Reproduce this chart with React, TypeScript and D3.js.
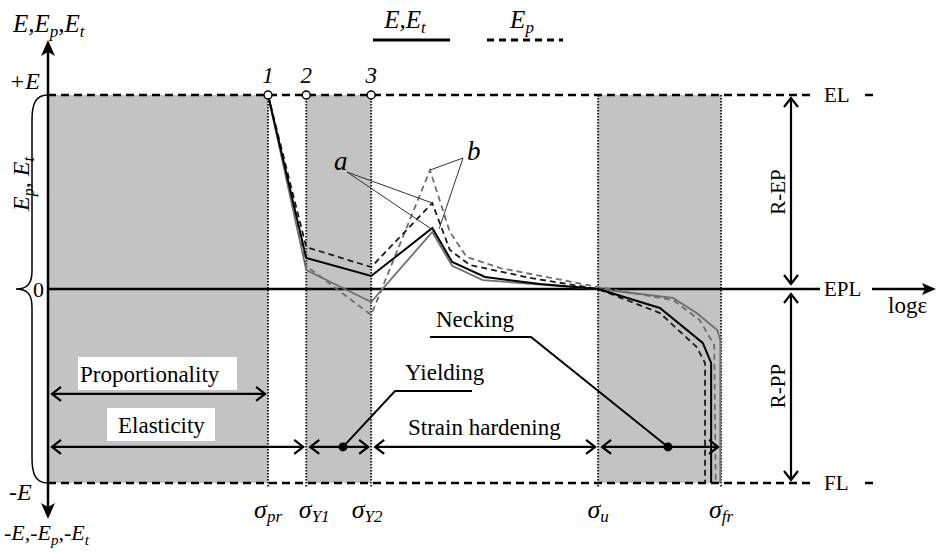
import React, { useEffect, useRef } from "react";
import * as d3 from "d3";

// ---- data (x in relative log-strain units 0..100, y in units of E: +1 = +E, -1 = -E)
const stressNames = ["pr", "Y1", "Y2", "u", "fr"];
const stressX = [28.8, 33.8, 42.3, 72.0, 88.1];
const pointLabels = ["1", "2", "3"];
const pointX = [28.8, 33.8, 42.3];
const shadedBands = [
  [0, 28.8],
  [33.8, 42.3],
  [72.0, 88.1],
];
const levelNames = ["EL", "EPL", "FL"];
const levelY = [1, 0, -1];

const blackSolidX = [28.8, 33.8, 42.3, 50.3, 52.9, 57.2, 64.4, 72.0, 80.1, 85.7, 86.8, 86.8];
const blackSolidY = [1, 0.16, 0.067, 0.314, 0.139, 0.062, 0.026, 0, -0.098, -0.278, -0.381, -1];
const blackDashX = [28.8, 33.8, 42.3, 50.3, 52.6, 55.2, 63.1, 72.0, 80.1, 84.9, 86.0, 86.0];
const blackDashY = [1, 0.216, 0.113, 0.443, 0.201, 0.124, 0.057, 0, -0.124, -0.299, -0.381, -1];
const greySolidX = [28.8, 33.8, 42.3, 50.3, 52.9, 56.9, 72.0, 81.8, 84.9, 87.6, 88.0, 88.0];
const greySolidY = [1, 0.098, -0.067, 0.294, 0.119, 0.046, 0, -0.046, -0.124, -0.211, -0.263, -1];
const greyDashX = [28.8, 33.8, 42.3, 50.0, 52.6, 54.8, 59.2, 72.0, 81.8, 85.3, 87.2, 87.4];
const greyDashY = [1, 0.119, -0.134, 0.613, 0.294, 0.165, 0.108, 0.01, -0.057, -0.16, -0.289, -1];

const rangeNames = ["Proportionality", "Elasticity", "Yielding", "Strain hardening", "Necking"];
const fontParts = ["Liberation", "Serif"];

const W = 941;
const H = 554;
const x = d3.scaleLinear().domain([0, 100]).range([48, 812]);
const y = d3.scaleLinear().domain([-1, 1]).range([483, 95]);

const GREY = "#6e6e6e";
const SHADE = "#c3c3c3";
const FAMILY = `'${fontParts.join(" ")}'`;

function pts(xs: number[], ys: number[]): [number, number][] {
  return xs.map((v, i) => [x(v), y(ys[i])]);
}
const line = d3.line();

function T(props: any) {
  const { children, italic, ...rest } = props;
  const extra: any = italic ? { fontStyle: "italic" } : {};
  return (
    <text {...rest} {...extra} style={{ fontFamily: FAMILY }}>
      {children}
    </text>
  );
}

function Chevron({ px, py, dir }: { px: number; py: number; dir: number }) {
  const s = 9;
  const w = 7;
  let d = "";
  if (dir === 0) d = `M${px + s},${py - w} L${px},${py} L${px + s},${py + w}`;
  if (dir === 1) d = `M${px - s},${py - w} L${px},${py} L${px - s},${py + w}`;
  if (dir === 2) d = `M${px - w},${py + s} L${px},${py} L${px + w},${py + s}`;
  if (dir === 3) d = `M${px - w},${py - s} L${px},${py} L${px + w},${py - s}`;
  return <path d={d} fill="none" stroke="#000" strokeWidth={2.2} />;
}

function HArrow({ x1, x2, py }: { x1: number; x2: number; py: number }) {
  return (
    <g>
      <line x1={x1} x2={x2} y1={py} y2={py} stroke="#000" strokeWidth={2.2} />
      <Chevron px={x1} py={py} dir={0} />
      <Chevron px={x2} py={py} dir={1} />
    </g>
  );
}

function VArrow({ px, y1, y2 }: { px: number; y1: number; y2: number }) {
  return (
    <g>
      <line x1={px} x2={px} y1={y1} y2={y2} stroke="#000" strokeWidth={2.2} />
      <Chevron px={px} py={y1} dir={2} />
      <Chevron px={px} py={y2} dir={3} />
    </g>
  );
}

export default function App() {
  const ref = useRef<SVGSVGElement | null>(null);
  useEffect(() => {
    if (!ref.current) return;
    d3.select(ref.current)
      .selectAll("text, tspan")
      .attr("font-family", FAMILY)
      .each(function () {
        (this as any).style.setProperty("font-family", FAMILY, "important");
      });
  }, []);

  const y0 = y(0);
  const yTop = y(1);
  const yBot = y(-1);
  const xAxis = x(0);
  const arrowY1 = y(-0.541);
  const arrowY2 = y(-0.814);
  const xR = 791;

  return (
    <svg ref={ref} width={W} height={H} style={{ position: "absolute", left: 0, top: 0 }}>
      <rect x={0} y={0} width={W} height={H} fill="#fff" />
      {shadedBands.map((b, i) => (
        <rect key={i} x={x(b[0])} y={yTop} width={x(b[1]) - x(b[0])} height={yBot - yTop} fill={SHADE} />
      ))}
      {stressX.map((v, i) => (
        <line key={i} x1={x(v)} x2={x(v)} y1={yTop} y2={yBot + 4} stroke="#222" strokeWidth={2} strokeDasharray="1.5 1.5" />
      ))}
      {[1, -1].map((lv, i) => (
        <g key={i}>
          <line x1={xAxis} x2={812} y1={y(lv)} y2={y(lv)} stroke="#000" strokeWidth={2.5} strokeDasharray="8 5" />
          <line x1={865} x2={873} y1={y(lv)} y2={y(lv)} stroke="#000" strokeWidth={2.5} />
        </g>
      ))}
      <line x1={xAxis} x2={820} y1={y0} y2={y0} stroke="#000" strokeWidth={2.5} />
      <line x1={872} x2={926} y1={y0} y2={y0} stroke="#000" strokeWidth={2.5} />
      <path d={`M936,${y0} L922,${y0 - 6} L925,${y0} L922,${y0 + 6} Z`} fill="#000" />
      {levelNames.map((n, i) => (
        <T key={n} x={824} y={y(levelY[i]) + 7} fontSize={21}>
          {n}
        </T>
      ))}
      <T x={888} y={313} fontSize={23}>logε</T>

      {/* curves */}
      <path d={line(pts(greySolidX, greySolidY)) || ""} fill="none" stroke={GREY} strokeWidth={1.8} />
      <path d={line(pts(greyDashX, greyDashY)) || ""} fill="none" stroke={GREY} strokeWidth={1.8} strokeDasharray="6 4" />
      <path d={line(pts(blackDashX, blackDashY)) || ""} fill="none" stroke="#1a1a1a" strokeWidth={1.8} strokeDasharray="6 4" />
      <path d={line(pts(blackSolidX, blackSolidY)) || ""} fill="none" stroke="#000" strokeWidth={2} />

      {/* a / b leaders */}
      <T x={334} y={170} fontSize={27} italic>a</T>
      <line x1={347} y1={172} x2={x(50.3)} y2={y(0.443)} stroke="#333" strokeWidth={1} />
      <line x1={347} y1={172} x2={x(50.0)} y2={y(0.314)} stroke="#333" strokeWidth={1} />
      <T x={467} y={160} fontSize={27} italic>b</T>
      <line x1={463} y1={158} x2={x(50.0)} y2={y(0.613)} stroke="#333" strokeWidth={1} />
      <line x1={463} y1={158} x2={x(51.2)} y2={y(0.31)} stroke="#333" strokeWidth={1} />

      {pointX.map((v, i) => (
        <g key={i}>
          <circle cx={x(v)} cy={yTop} r={4} fill="#fff" stroke="#000" strokeWidth={1.5} />
          <T x={x(v)} y={83} fontSize={23} italic textAnchor="middle">
            {pointLabels[i]}
          </T>
        </g>
      ))}

      {/* axes */}
      <line x1={xAxis} x2={xAxis} y1={50} y2={510} stroke="#000" strokeWidth={2.5} />
      <path d={`M${xAxis},40 L${xAxis - 7},56 L${xAxis},52 L${xAxis + 7},56 Z`} fill="#000" />
      <path d={`M${xAxis},519 L${xAxis - 7},503 L${xAxis},507 L${xAxis + 7},503 Z`} fill="#000" />

      {/* brace */}
      <path
        d={`M${xAxis},${yTop} C36,${yTop} 32,${yTop + 8} 32,${yTop + 25} L32,${y0 - 18} C32,${y0 - 4} 26,${y0} 16,${y0} C26,${y0} 32,${y0 + 4} 32,${y0 + 18} L32,${yBot - 25} C32,${yBot - 8} 36,${yBot} ${xAxis},${yBot}`}
        fill="none"
        stroke="#000"
        strokeWidth={1.5}
      />
      <T x={33} y={297} fontSize={22}>0</T>
      <T transform={`translate(29,${184}) rotate(-90)`} fontSize={24} italic textAnchor="middle">
        E<tspan fontSize={16} dy={5}>p</tspan>
        <tspan dy={-5}>, E</tspan>
        <tspan fontSize={16} dy={5}>t</tspan>
      </T>

      <T x={13} y={32} fontSize={25} italic>
        E,E<tspan fontSize={17} dy={5}>p</tspan>
        <tspan dy={-5}>,E</tspan>
        <tspan fontSize={17} dy={5}>t</tspan>
      </T>
      <T x={9} y={89} fontSize={24} italic>+E</T>
      <T x={9} y={500} fontSize={24} italic>-E</T>
      <T x={4} y={540} fontSize={22} italic>
        -E,-E<tspan fontSize={15} dy={5}>p</tspan>
        <tspan dy={-5}>,-E</tspan>
        <tspan fontSize={15} dy={5}>t</tspan>
      </T>

      {/* legend */}
      <T x={405} y={28} fontSize={25} italic textAnchor="middle">
        E,E<tspan fontSize={17} dy={5}>t</tspan>
      </T>
      <line x1={373} x2={450} y1={40} y2={40} stroke="#000" strokeWidth={3} />
      <T x={522} y={28} fontSize={25} italic textAnchor="middle">
        E<tspan fontSize={17} dy={5}>p</tspan>
      </T>
      <line x1={487} x2={563} y1={40} y2={40} stroke="#000" strokeWidth={3} strokeDasharray="7 5" />

      {stressNames.map((n, i) => (
        <T key={n} x={x(stressX[i]) + (i === 1 ? 8 : i === 2 ? -4 : 0)} y={518} fontSize={26} italic textAnchor="middle">
          σ<tspan fontSize={17} dy={4}>{n}</tspan>
        </T>
      ))}

      <VArrow px={xR} y1={yTop + 3} y2={y0 - 5} />
      <VArrow px={xR} y1={y0 + 5} y2={yBot - 3} />
      <T transform={`translate(${xR - 6},${(yTop + y0) / 2}) rotate(-90)`} fontSize={21} textAnchor="middle">R-EP</T>
      <T transform={`translate(${xR - 6},${(y0 + yBot) / 2}) rotate(-90)`} fontSize={21} textAnchor="middle">R-PP</T>

      <rect x={78} y={357} width={159} height={33} fill="#fff" />
      <T x={80} y={382} fontSize={23}>{rangeNames[0]}</T>
      <HArrow x1={52} x2={x(stressX[0]) - 3} py={arrowY1} />
      <rect x={107} y={408} width={108} height={33} fill="#fff" />
      <T x={118} y={433} fontSize={23}>{rangeNames[1]}</T>
      <HArrow x1={52} x2={x(stressX[1]) - 3} py={arrowY2} />
      <HArrow x1={x(stressX[1]) + 4} x2={x(stressX[2]) - 3} py={arrowY2} />
      <HArrow x1={x(stressX[2]) + 4} x2={x(stressX[3]) - 3} py={arrowY2} />
      <HArrow x1={x(stressX[3]) + 4} x2={x(stressX[4]) - 3} py={arrowY2} />
      <T x={408} y={435} fontSize={23}>{rangeNames[3]}</T>

      <circle cx={343} cy={arrowY2} r={4.5} fill="#000" />
      <polyline points={`343,${arrowY2} 395,391 472,391`} fill="none" stroke="#000" strokeWidth={2} />
      <T x={405} y={380} fontSize={23}>{rangeNames[2]}</T>
      <circle cx={668} cy={arrowY2} r={4.5} fill="#000" />
      <polyline points={`668,${arrowY2} 531,337 430,337`} fill="none" stroke="#000" strokeWidth={2} />
      <T x={436} y={327} fontSize={23}>{rangeNames[4]}</T>
    </svg>
  );
}
